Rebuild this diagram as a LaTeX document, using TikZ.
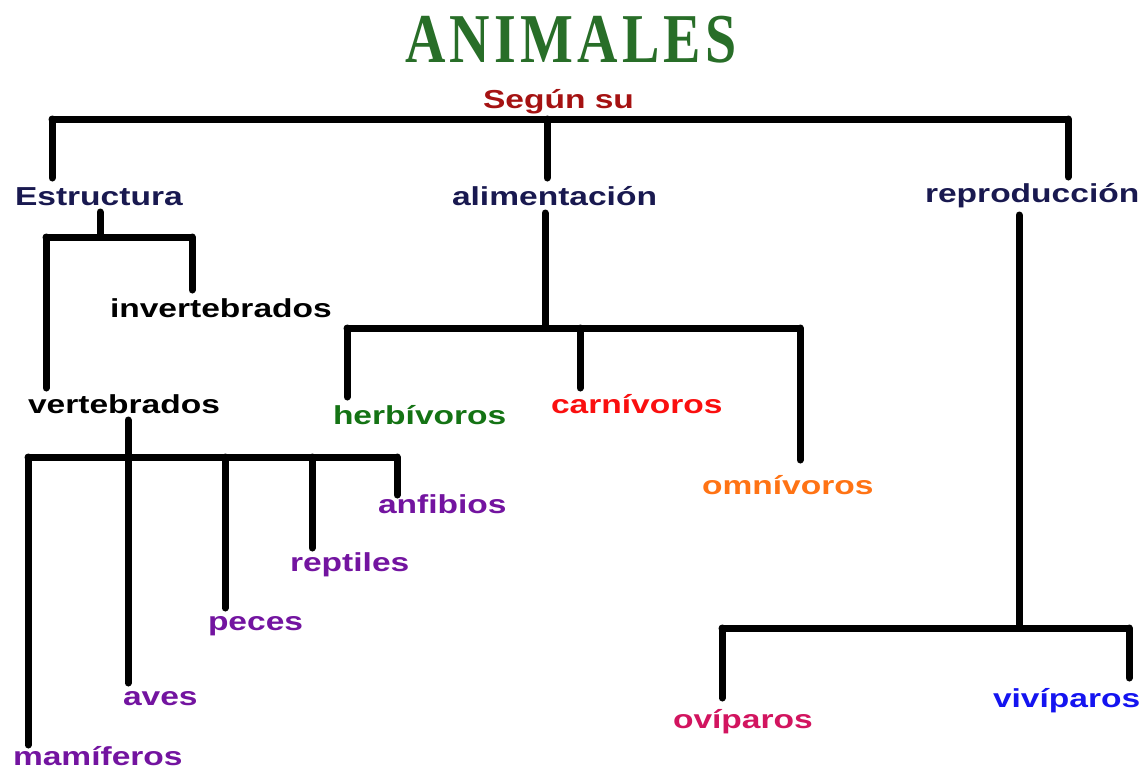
\documentclass[tikz,border=0pt]{standalone}
\usepackage{fontspec}
\setmainfont{Liberation Sans}
\newfontfamily\labfont[FakeStretch=1.29]{Liberation Sans Bold}
\newfontfamily\titlefont[FakeStretch=0.80,LetterSpace=6]{Liberation Serif Bold}
\definecolor{segunc}{RGB}{165,18,18}
\definecolor{navyc}{RGB}{25,25,80}
\definecolor{herbc}{RGB}{20,115,20}
\definecolor{carnc}{RGB}{250,15,15}
\definecolor{omnic}{RGB}{255,115,20}
\definecolor{purpc}{RGB}{115,20,160}
\definecolor{ovic}{RGB}{210,20,95}
\definecolor{vivic}{RGB}{20,20,240}
\definecolor{titlec}{RGB}{40,110,40}
\tikzset{
  lab/.style={anchor=base west, inner sep=0pt, outer sep=0pt, font=\labfont\fontsize{26}{30}\selectfont},
  conn/.style={line width=7pt, line cap=round, line join=round, black},
}
\begin{document}
\begin{tikzpicture}[x=1pt,y=-1pt]
\useasboundingbox (0,0) rectangle (1147,769);
\fill[white] (0,0) rectangle (1147,769);
% title
\node[anchor=base west, inner sep=0pt, text=titlec, font=\titlefont\fontsize{70}{80}\selectfont] (title) at (405,62) {ANIMALES};
% labels
\node[lab, text=segunc] (segun) at (483,108) {Según su};
\node[lab, text=navyc] (estructura) at (15,205) {Estructura};
\node[lab, text=navyc] (alimentacion) at (452,205) {alimentación};
\node[lab, text=navyc] (reproduccion) at (925,202) {reproducción};
\node[lab, text=black] (invertebrados) at (110,317) {invertebrados};
\node[lab, text=black] (vertebrados) at (28,413) {vertebrados};
\node[lab, text=herbc] (herbivoros) at (333,424) {herbívoros};
\node[lab, text=carnc] (carnivoros) at (551,413) {carnívoros};
\node[lab, text=omnic] (omnivoros) at (702,494) {omnívoros};
\node[lab, text=purpc] (anfibios) at (378,513) {anfibios};
\node[lab, text=purpc] (reptiles) at (290,571) {reptiles};
\node[lab, text=purpc] (peces) at (208,630) {peces};
\node[lab, text=purpc] (aves) at (123,705) {aves};
\node[lab, text=purpc] (mamiferos) at (13,765) {mamíferos};
\node[lab, text=ovic] (oviparos) at (673,728) {ovíparos};
\node[lab, text=vivic] (viviparos) at (993,707) {vivíparos};
% junction coordinates
\coordinate (tL) at (52,119);
\coordinate (tM) at (547,119);
\coordinate (tR) at (1068,119);
\coordinate (eA) at (52,178);
\coordinate (aA) at (547,178);
\coordinate (rA) at (1068,177);
% estructura
\coordinate (eB) at (100,212);
\coordinate (eJ) at (100,237);
\coordinate (eL) at (46,237);
\coordinate (eR) at (192,237);
\coordinate (vA) at (46,388);
\coordinate (iA) at (192,290);
% vertebrados
\coordinate (vB) at (128,420);
\coordinate (vL) at (28,457);
\coordinate (vJ) at (128,457);
\coordinate (vP) at (225,457);
\coordinate (vQ) at (312,457);
\coordinate (vR) at (397,457);
\coordinate (maA) at (28,745);
\coordinate (avA) at (128,683);
\coordinate (peA) at (225,608);
\coordinate (reA) at (312,548);
\coordinate (anA) at (397,495);
% alimentacion
\coordinate (aB) at (545,213);
\coordinate (aJ) at (545,328);
\coordinate (aL) at (347,328);
\coordinate (aC) at (580,328);
\coordinate (aR) at (800,328);
\coordinate (hA) at (347,397);
\coordinate (cA) at (580,388);
\coordinate (oA) at (800,460);
% reproduccion
\coordinate (rB) at (1019,215);
\coordinate (rJ) at (1019,628);
\coordinate (rL) at (722,628);
\coordinate (rR) at (1129,628);
\coordinate (ovA) at (722,698);
\coordinate (viA) at (1129,678);
% connectors
\draw[conn] (tL) -- (tR);
\draw[conn] (tL) -- (eA);
\draw[conn] (tM) -- (aA);
\draw[conn] (tR) -- (rA);
\draw[conn] (eB) -- (eJ);
\draw[conn] (eL) -- (eR);
\draw[conn] (eL) -- (vA);
\draw[conn] (eR) -- (iA);
\draw[conn] (vB) -- (vJ);
\draw[conn] (vL) -- (vR);
\draw[conn] (vL) -- (maA);
\draw[conn] (vJ) -- (avA);
\draw[conn] (vP) -- (peA);
\draw[conn] (vQ) -- (reA);
\draw[conn] (vR) -- (anA);
\draw[conn] (aB) -- (aJ);
\draw[conn] (aL) -- (aR);
\draw[conn] (aL) -- (hA);
\draw[conn] (aC) -- (cA);
\draw[conn] (aR) -- (oA);
\draw[conn] (rB) -- (rJ);
\draw[conn] (rL) -- (rR);
\draw[conn] (rL) -- (ovA);
\draw[conn] (rR) -- (viA);
\end{tikzpicture}
\end{document}
